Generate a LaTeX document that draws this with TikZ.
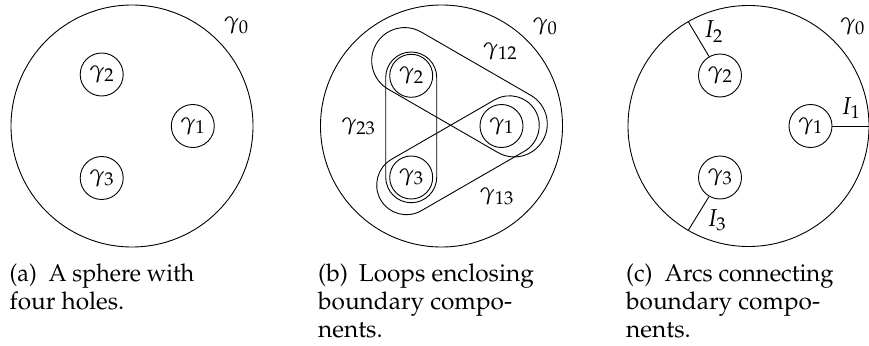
\documentclass[tikz,border=0pt]{standalone}
\usepackage[T1]{fontenc}
\usepackage{mathpazo}
\usepackage{graphicx}
\usetikzlibrary{calc}
\begin{document}
\begin{tikzpicture}[x=1pt,y=1pt,
  font=\fontsize{24.4}{28}\selectfont,
  ln/.style={line width=0.9pt},
  bigdisk/.style={circle, draw, line width=0.9pt, minimum size=242pt, inner sep=0pt},
  hole/.style={circle, draw, line width=0.9pt, minimum size=43pt, inner sep=0pt},
  lbl/.style={inner sep=0pt},
  captext/.style={anchor=base west, inner sep=0pt}]
\useasboundingbox (0,0) rectangle (869,-345);

% ---------- panel (a)
\node[bigdisk] (Oa) at (132,-126) {};
\node[hole] (a1) at (192.8,-126) {$\gamma_1$};
\node[hole] (a2) at (101.7,-74.5) {$\gamma_2$};
\node[hole] (a3) at (101.7,-178) {$\gamma_3$};
\node[lbl] (a0) at (236.2,-25.8) {$\gamma_0$};

% ---------- panel (b)
\node[bigdisk] (Ob) at (441.5,-126) {};
\node[hole] (b1) at (501.5,-126) {$\gamma_1$};
\node[hole] (b2) at (411.2,-75.8) {$\gamma_2$};
\node[hole] (b3) at (411.2,-177.5) {$\gamma_3$};
\node[lbl] (b0) at (545,-26.7) {$\gamma_0$};
\node[lbl] (b12) at (500,-51.7) {$\gamma_{12}$};
\node[lbl] (b23) at (358.3,-126.7) {$\gamma_{23}$};
\node[lbl] (b13) at (496.7,-196.7) {$\gamma_{13}$};

\coordinate (l12a) at (404.7,-60.6);
\coordinate (l12b) at (514.3,-123.9);
\coordinate (l13a) at (406.4,-185);
\coordinate (l13b) at (509.6,-125.5);
\coordinate (l23a) at (411.2,-177.2);
\coordinate (l23b) at (411.2,-77.5);

\draw[ln] ($(l12a)+(60:33)$) -- ($(l12b)+(60:33)$)
  arc[start angle=60, delta angle=-180, radius=33]
  -- ($(l12a)+(-120:33)$) arc[start angle=-120, delta angle=-180, radius=33] -- cycle;
\draw[ln] ($(l13a)+(120:29.7)$) -- ($(l13b)+(120:29.7)$)
  arc[start angle=120, delta angle=-180, radius=29.7]
  -- ($(l13a)+(-60:29.7)$) arc[start angle=-60, delta angle=-180, radius=29.7] -- cycle;
\draw[ln] ($(l23a)+(180:25.5)$) -- ($(l23b)+(180:25.5)$)
  arc[start angle=180, delta angle=-180, radius=25.5]
  -- ($(l23a)+(0:25.5)$) arc[start angle=0, delta angle=-180, radius=25.5] -- cycle;

% ---------- panel (c)
\node[bigdisk, minimum size=241pt] (Oc) at (748.5,-126) {};
\node[hole] (c1) at (810.5,-126) {$\gamma_1$};
\node[hole] (c2) at (720,-75.5) {$\gamma_2$};
\node[hole] (c3) at (720,-177.5) {$\gamma_3$};
\node[lbl] (c0) at (852.5,-26.7) {$\gamma_0$};
\draw[ln] (c1.0) -- (Oc.0);
\draw[ln] (c2.120) -- (Oc.120);
\draw[ln] (c3.240) -- (Oc.240);
\node[lbl] (i1) at (850.7,-108.3) {$I_1$};
\node[lbl] (i2) at (713.3,-31.7) {$I_2$};
\node[lbl] (i3) at (716.7,-220) {$I_3$};

% ---------- captions
\node[captext] (capa1) at (9.5,-281) {\scalebox{0.955}[1]{(a)\hspace{0.5em}A sphere with}};
\node[captext] (capa2) at (9.5,-309) {four holes.};
\node[captext] (capb1) at (318,-281) {(b)\hspace{0.45em}Loops enclosing};
\node[captext] (capb2) at (318,-309) {boundary compo-};
\node[captext] (capb3) at (318,-337) {nents.};
\node[captext] (capc1) at (626,-281) {\scalebox{0.975}[1]{(c)\hspace{0.5em}Arcs connecting}};
\node[captext] (capc2) at (626,-309) {boundary compo-};
\node[captext] (capc3) at (626,-337) {nents.};
\end{tikzpicture}
\end{document}
